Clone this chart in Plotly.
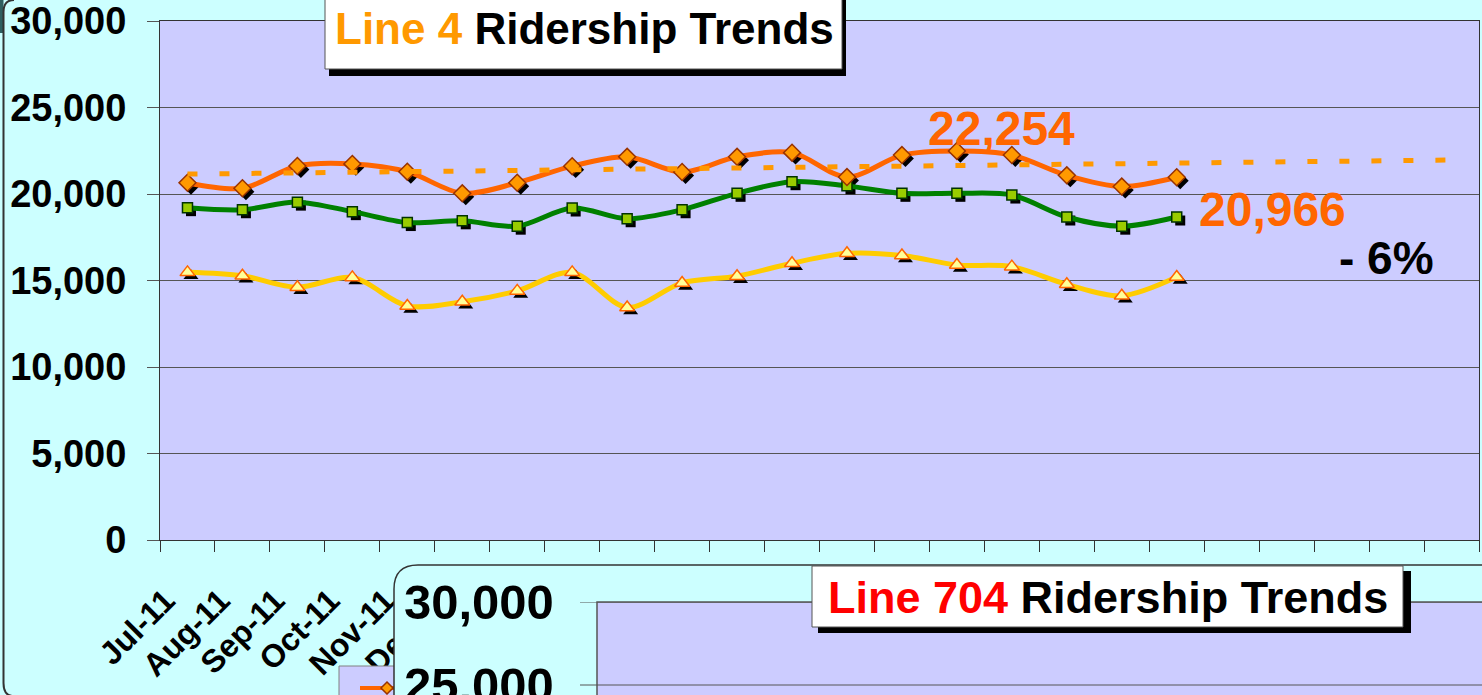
import plotly.graph_objects as go

W, H = 1482, 695
FONT = "Liberation Sans, Arial, sans-serif"

# ---------------- data ----------------
months = ["Jul-11", "Aug-11", "Sep-11", "Oct-11", "Nov-11", "Dec-11",
          "Jan-12", "Feb-12", "Mar-12", "Apr-12", "May-12", "Jun-12",
          "Jul-12", "Aug-12", "Sep-12", "Oct-12", "Nov-12", "Dec-12",
          "Jan-13", "Feb-13", "Mar-13", "Apr-13", "May-13", "Jun-13"]

series_orange = [20650, 20330, 21620, 21740, 21290, 20040, 20650, 21610, 22150, 21270,
                 22150, 22390, 20980, 22250, 22490, 22254, 21080, 20430, 20966]
series_green = [19210, 19090, 19530, 18980, 18350, 18450, 18140, 19190, 18570, 19090,
                20040, 20710, 20470, 20040, 20040, 19940, 18670, 18140, 18670]
series_yellow = [15470, 15270, 14610, 15180, 13530, 13770, 14400, 15470, 13440, 14860,
                 15250, 16000, 16570, 16450, 15900, 15800, 14780, 14120, 15200]

trend_months = ["Jul-11", "Jun-13"]
trend_values = [21150, 21965]

y_ticks = [0, 5000, 10000, 15000, 20000, 25000, 30000]
lower_ticks = [25000, 30000]

label_peak = "22,254"
label_last = "20,966"
label_change = "- 6%"


def px(x):
    return x / W


def py(y):
    return 1 - y / H


# plot area of upper chart (pixels)
PL, PR, PT, PB = 160, 1479, 21, 540
cat_w = (PR - PL) / len(months)
sh = 3.5  # shadow offset in px
dx = sh / cat_w
dy = sh * 30000 / (PB - PT)

fig = go.Figure()

styles = [
    (series_green, "Saturday", "#008000", "square", 10, "#99cc00", "#003300"),
    (series_yellow, "Sunday", "#ffcc00", "triangle-up", 13, "#ffff99", "#ff6600"),
    (series_orange, "Weekday", "#ff6600", "diamond", 13, "#ff9900", "#993300"),
]

# shadows (primary hidden axes, shifted)
for vals, name, lc, sym, size, fc, oc in styles:
    fig.add_trace(go.Scatter(
        x=months[:len(vals)], y=vals, xaxis="x", yaxis="y", mode="markers",
        marker=dict(symbol=sym, size=size, color="black", line=dict(width=0)),
        showlegend=False, hoverinfo="skip"))

for vals, name, lc, sym, size, fc, oc in styles:
    fig.add_trace(go.Scatter(
        x=months[:len(vals)], y=vals, xaxis="x2", yaxis="y2", name=name,
        mode="lines+markers",
        line=dict(color=lc, width=5, shape="spline", smoothing=0.9),
        marker=dict(symbol=sym, size=size, color=fc, line=dict(color=oc, width=1.5)),
        showlegend=False))

fig.add_trace(go.Scatter(
    x=trend_months, y=trend_values, xaxis="x2", yaxis="y2", mode="lines",
    line=dict(color="#ff9900", width=5, dash="10px,22px"), showlegend=False))

shapes = []
# outer container decoration
shapes.append(dict(type="rect", xref="paper", yref="paper", x0=px(0), x1=px(3.5), y0=py(0), y1=py(33),
                   fillcolor="#2f5f60", line=dict(width=0), layer="above"))
shapes.append(dict(type="path", xref="paper", yref="paper",
                   path=f"M {px(14)},{py(0)} Q {px(3.5)},{py(0)} {px(3.5)},{py(12)} L {px(3.5)},{py(683)} Q {px(3.5)},{py(695)} {px(12)},{py(696)}",
                   line=dict(color="#333333", width=2), layer="above"))
# legend fragment of upper chart
shapes.append(dict(type="rect", xref="paper", yref="paper", x0=px(339), x1=px(420), y0=py(666), y1=py(705),
                   fillcolor="#ccccff", line=dict(color="#808080", width=1), layer="above"))
shapes.append(dict(type="line", xref="paper", yref="paper", x0=px(360), x1=px(400), y0=py(688), y1=py(688),
                   line=dict(color="#ff6600", width=4), layer="above"))
shapes.append(dict(type="path", xref="paper", yref="paper",
                   path=f"M {px(387)},{py(682)} L {px(393)},{py(688)} L {px(387)},{py(694)} L {px(381)},{py(688)} Z",
                   fillcolor="#ff9900", line=dict(color="#993300", width=1.5), layer="above"))
# title box 1
shapes.append(dict(type="rect", xref="paper", yref="paper", x0=px(329), x1=px(846), y0=py(-5), y1=py(76),
                   fillcolor="black", line=dict(width=0), layer="above"))
shapes.append(dict(type="rect", xref="paper", yref="paper", x0=px(325), x1=px(842), y0=py(-5), y1=py(69),
                   fillcolor="white", line=dict(color="#555555", width=1), layer="above"))
# lower chart container
r = 24
shapes.append(dict(type="path", xref="paper", yref="paper",
                   path=(f"M {px(394)},{py(710)} L {px(394)},{py(565 + r)} Q {px(394)},{py(565)} {px(394 + r)},{py(565)} "
                         f"L {px(1495)},{py(565)} L {px(1495)},{py(710)} Z"),
                   fillcolor="#ccffff", line=dict(color="#333333", width=1.5), layer="above"))
shapes.append(dict(type="rect", xref="paper", yref="paper", x0=px(597), x1=px(1495), y0=py(602), y1=py(710),
                   fillcolor="#ccccff", line=dict(color="#555555", width=1.5), layer="above"))
for t in lower_ticks:
    shapes.append(dict(type="line", xref="paper", yref="y3", x0=px(597), x1=px(1495), y0=t, y1=t,
                       line=dict(color="#555555", width=1), layer="above"))
    shapes.append(dict(type="line", xref="paper", yref="y3", x0=px(580), x1=px(597), y0=t, y1=t,
                       line=dict(color="#555555", width=1), layer="above"))
# title box 2
shapes.append(dict(type="rect", xref="paper", yref="paper", x0=px(818), x1=px(1411), y0=py(571), y1=py(633),
                   fillcolor="black", line=dict(width=0), layer="above"))
shapes.append(dict(type="rect", xref="paper", yref="paper", x0=px(812), x1=px(1403), y0=py(566), y1=py(627),
                   fillcolor="white", line=dict(color="#555555", width=1), layer="above"))

annotations = [
    dict(text="<b><span style='color:#ff9900'>Line 4</span> Ridership Trends</b>", x=px(584), y=py(28),
         font=dict(size=44, color="black", family=FONT)),
    dict(text=f"<b>{label_peak}</b>", x=px(1001), y=py(128), font=dict(size=48, color="#ff6600", family=FONT)),
    dict(text=f"<b>{label_last}</b>", x=px(1272), y=py(209), font=dict(size=48, color="#ff6600", family=FONT)),
    dict(text=f"<b>{label_change}</b>", x=px(1386), y=py(258), font=dict(size=46, color="black", family=FONT)),
    dict(text="<b><span style='color:#ff0000'>Line 704</span> Ridership Trends</b>", x=px(1108), y=py(597),
         font=dict(size=45, color="black", family=FONT)),
]
for t in lower_ticks:
    annotations.append(dict(text=f"<b>{t:,}</b>", x=px(556), y=t, yref="y3", xanchor="right",
                            font=dict(size=49, color="black", family=FONT)))
for a in annotations:
    a.setdefault("xref", "paper")
    a.setdefault("yref", "paper")
    a.setdefault("xanchor", "center")
    a["yanchor"] = "middle"
    a["showarrow"] = False

fig.update_layout(
    width=W, height=H, margin=dict(l=0, r=0, t=0, b=0),
    paper_bgcolor="#ccffff", plot_bgcolor="#ccccff",
    showlegend=False,
    xaxis=dict(domain=[px(PL), px(PR)], type="category", categoryorder="array", categoryarray=months,
               range=[-0.5 - dx, len(months) - 0.5 - dx], visible=False, anchor="y"),
    yaxis=dict(domain=[py(PB), py(PT)], range=[dy, 30000 + dy], visible=False, anchor="x"),
    xaxis2=dict(overlaying="x", anchor="y2", type="category", categoryorder="array", categoryarray=months,
                range=[-0.5, len(months) - 0.5], tickson="boundaries", ticks="outside", ticklen=11,
                tickcolor="#333333", tickangle=-45, showgrid=False, showline=True, linecolor="#333333",
                mirror=True, automargin=False, ticklabelstandoff=28, ticklabelshift=-22,
                tickfont=dict(size=32, color="black", family=FONT, weight="bold")),
    yaxis2=dict(overlaying="y", anchor="x2", range=[0, 30000], tickvals=y_ticks, tickformat=",d",
                ticks="outside", ticklen=12, tickcolor="#555555", showgrid=True, gridcolor="#555555",
                gridwidth=1, zeroline=False, showline=True, linecolor="#333333", mirror=True,
                automargin=False, ticklabelstandoff=13,
                tickfont=dict(size=38, color="black", family=FONT, weight="bold")),
    xaxis3=dict(domain=[px(597), 1], anchor="y3", visible=False, range=[0, 1]),
    yaxis3=dict(domain=[0, py(602)], anchor="x3", visible=False, range=[24398, 30000]),
    shapes=shapes, annotations=annotations,
)

fig.write_html("out.html", config={"displayModeBar": False},
               post_script="document.body.style.margin='0';document.body.style.overflow='hidden';")
